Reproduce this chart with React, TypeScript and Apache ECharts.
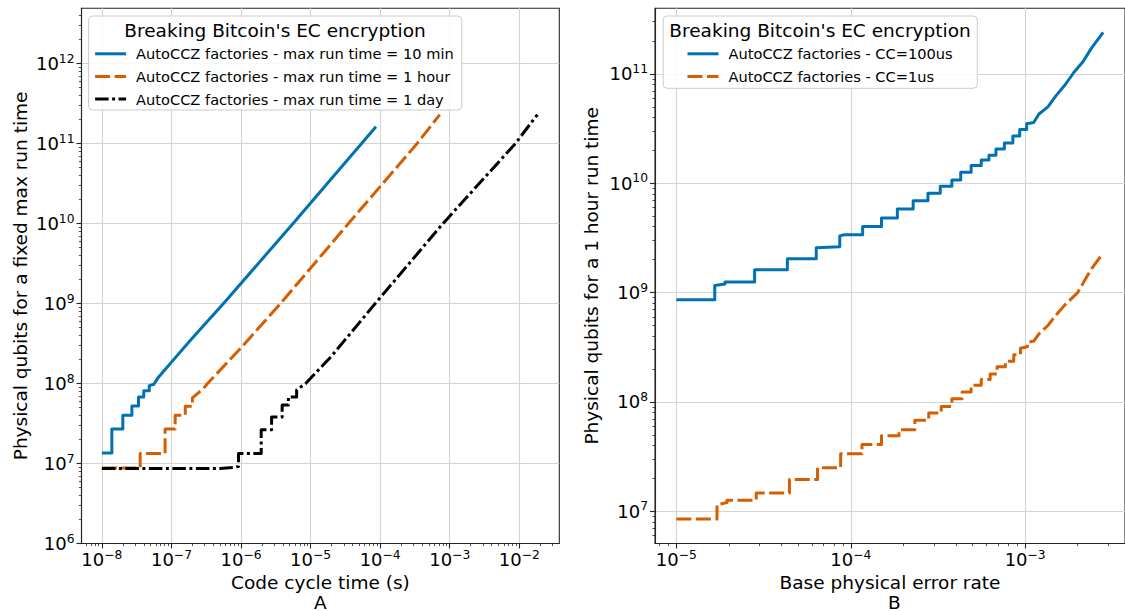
import React, { useEffect, useRef } from "react";
import * as echarts from "echarts";

const FONT = "'DejaVu Sans', 'Noto Sans', sans-serif";
const BLUE = "#0072B2";
const ORANGE = "#D55E00";
const BLACK = "#000000";
const AXIS_COLOR = "#262626";
const GRID_COLOR = "#d4d4d4";

// ---------- Panel A ----------
const panelATitle = "Breaking Bitcoin's EC encryption";
const panelANames = [
  "AutoCCZ factories - max run time = 10 min",
  "AutoCCZ factories - max run time = 1 hour",
  "AutoCCZ factories - max run time = 1 day",
];
const panelAXTickExps = [-8, -7, -6, -5, -4, -3, -2];
const panelAYTickExps = [6, 7, 8, 9, 10, 11, 12];
const panelAXLimExp = [-8.293, -1.425];
const panelAYLimExp = [6, 12.69];
const panelAXLabel = "Code cycle time (s)";
const panelAYLabel = "Physical qubits for a fixed max run time";
const panelACaption = "A";

// [code cycle time (s), physical qubits]
const tenMin: [number, number][] = [
  [1e-8, 1.35e7], [1.39e-8, 1.35e7], [1.39e-8, 2.7e7], [2.0e-8, 2.7e7],
  [2.0e-8, 4.0e7], [2.7e-8, 4.0e7], [2.7e-8, 5.25e7], [3.36e-8, 5.25e7],
  [3.36e-8, 6.8e7], [4.0e-8, 6.8e7], [4.0e-8, 8.1e7], [4.8e-8, 8.1e7],
  [4.8e-8, 9.4e7], [5.6e-8, 9.8e7], [6.5e-8, 1.2e8], [8.1e-8, 1.5e8],
  [1e-7, 1.85e8], [2e-7, 3.7e8], [5.6e-7, 1.0e9], [5.6e-6, 1.0e10],
  [5.4e-5, 1.0e11], [8.7e-5, 1.62e11],
];
const oneHour: [number, number][] = [
  [1e-8, 8.8e6], [3.55e-8, 8.8e6], [3.55e-8, 1.33e7], [8.1e-8, 1.33e7],
  [8.1e-8, 2.7e7], [1.13e-7, 2.7e7], [1.13e-7, 4.0e7], [1.58e-7, 4.0e7],
  [1.58e-7, 5.2e7], [2.0e-7, 5.2e7], [2.0e-7, 6.6e7], [2.9e-7, 8.7e7],
  [3.3e-7, 1.0e8], [1e-6, 2.8e8], [3.7e-6, 1.0e9], [3.5e-5, 1.0e10],
  [3.4e-4, 1.0e11], [7.2e-4, 2.3e11],
];
const oneDay: [number, number][] = [
  [1e-8, 8.65e6], [5e-7, 8.65e6], [8.5e-7, 9.0e6], [9.2e-7, 9.2e6],
  [9.2e-7, 1.33e7], [1.95e-6, 1.33e7], [1.95e-6, 2.65e7], [2.75e-6, 2.65e7],
  [2.75e-6, 3.8e7], [3.9e-6, 3.8e7], [3.9e-6, 5.4e7], [4.8e-6, 5.4e7],
  [4.8e-6, 6.8e7], [6.3e-6, 6.8e7], [6.3e-6, 8.3e7], [8.5e-6, 1.0e8],
  [2e-5, 2.2e8], [8.5e-5, 1.0e9], [8.0e-4, 1.0e10], [8.8e-3, 1.0e11],
  [1.82e-2, 2.3e11],
];

// ---------- Panel B ----------
const panelBTitle = "Breaking Bitcoin's EC encryption";
const panelBNames = ["AutoCCZ factories - CC=100us", "AutoCCZ factories - CC=1us"];
const panelBXTickExps = [-5, -4, -3];
const panelBYTickExps = [7, 8, 9, 10, 11];
const panelBXLimExp = [-5.1225, -2.4275];
const panelBYLimExp = [6.705, 11.6];
const panelBXLabel = "Base physical error rate";
const panelBYLabel = "Physical qubits for a 1 hour run time";
const panelBCaption = "B";

// [base physical error rate, physical qubits]
const cc100us: [number, number][] = [
  [1e-5, 8.6e8], [1.66e-5, 8.6e8], [1.66e-5, 1.16e9], [1.9e-5, 1.2e9],
  [1.9e-5, 1.25e9], [2.81e-5, 1.25e9], [2.81e-5, 1.62e9], [4.33e-5, 1.62e9],
  [4.33e-5, 2.04e9], [6.34e-5, 2.04e9], [6.34e-5, 2.57e9], [7.4e-5, 2.6e9],
  [8.65e-5, 2.62e9], [8.65e-5, 3.3e9], [9.2e-5, 3.38e9], [1.17e-4, 3.38e9],
  [1.17e-4, 4.03e9], [1.5e-4, 4.03e9], [1.5e-4, 4.8e9], [1.85e-4, 4.8e9],
  [1.85e-4, 5.8e9], [2.28e-4, 5.8e9], [2.28e-4, 6.9e9], [2.77e-4, 6.9e9],
  [2.77e-4, 8.1e9], [3.26e-4, 8.1e9], [3.26e-4, 9.4e9], [3.8e-4, 9.4e9],
  [3.8e-4, 1.07e10], [4.27e-4, 1.07e10], [4.27e-4, 1.26e10], [4.9e-4, 1.26e10],
  [4.9e-4, 1.45e10], [5.6e-4, 1.45e10], [5.6e-4, 1.63e10], [6.2e-4, 1.63e10],
  [6.2e-4, 1.8e10], [6.8e-4, 1.8e10], [6.8e-4, 2.06e10], [7.6e-4, 2.06e10],
  [7.6e-4, 2.33e10], [8.5e-4, 2.33e10], [8.5e-4, 2.7e10], [9.3e-4, 2.7e10],
  [9.3e-4, 3.1e10], [1.02e-3, 3.1e10], [1.02e-3, 3.5e10], [1.12e-3, 3.6e10],
  [1.2e-3, 4.3e10], [1.35e-3, 5.0e10], [1.5e-3, 6.3e10], [1.7e-3, 8.0e10],
  [1.9e-3, 1.03e11], [2.15e-3, 1.3e11], [2.4e-3, 1.72e11], [2.8e-3, 2.4e11],
];
const cc1us: [number, number][] = [
  [1e-5, 8.5e6], [1.71e-5, 8.5e6], [1.71e-5, 1.15e7], [1.95e-5, 1.2e7],
  [1.95e-5, 1.26e7], [2.87e-5, 1.26e7], [2.87e-5, 1.47e7], [4.45e-5, 1.47e7],
  [4.45e-5, 1.95e7], [6.45e-5, 1.95e7], [6.45e-5, 2.5e7], [8.75e-5, 2.5e7],
  [8.75e-5, 3.35e7], [1.16e-4, 3.35e7], [1.16e-4, 4.07e7], [1.5e-4, 4.07e7],
  [1.5e-4, 4.9e7], [1.89e-4, 4.9e7], [1.89e-4, 5.56e7], [2.33e-4, 5.56e7],
  [2.33e-4, 6.8e7], [2.8e-4, 6.8e7], [2.8e-4, 7.9e7], [3.3e-4, 7.9e7],
  [3.3e-4, 9.1e7], [3.8e-4, 9.1e7], [3.8e-4, 1.07e8], [4.35e-4, 1.07e8],
  [4.35e-4, 1.23e8], [4.9e-4, 1.23e8], [4.9e-4, 1.42e8], [5.6e-4, 1.42e8],
  [5.6e-4, 1.6e8], [6.3e-4, 1.6e8], [6.3e-4, 1.8e8], [6.9e-4, 1.8e8],
  [6.9e-4, 2.1e8], [7.7e-4, 2.1e8], [7.7e-4, 2.35e8], [8.6e-4, 2.35e8],
  [8.6e-4, 2.7e8], [9.4e-4, 2.7e8], [9.4e-4, 3.1e8], [1.03e-3, 3.2e8],
  [1.03e-3, 3.5e8], [1.12e-3, 3.6e8], [1.2e-3, 4.2e8], [1.35e-3, 5.0e8],
  [1.5e-3, 6.2e8], [1.7e-3, 7.8e8], [2.0e-3, 1.0e9], [2.2e-3, 1.3e9],
  [2.4e-3, 1.65e9], [2.8e-3, 2.3e9],
];

const SUP_MINUS = "\u2212";

function powLabel(v: number): string {
  const e = Math.round(Math.log10(v));
  return `{b|10}{s|${e < 0 ? SUP_MINUS + Math.abs(e) : String(e)}}`;
}

const labelRich = {
  b: { fontSize: 18, fontFamily: FONT, color: "#000", lineHeight: 22 },
  s: { fontSize: 12.3, fontFamily: FONT, color: "#000", lineHeight: 14, verticalAlign: "top" },
};

function minorValues(lo: number, hi: number): number[] {
  const out: number[] = [];
  for (let e = Math.floor(lo); e <= Math.ceil(hi); e++) {
    for (let k = 2; k <= 9; k++) {
      const v = k * Math.pow(10, e);
      const l = Math.log10(v);
      if (l >= lo && l <= hi) out.push(v);
    }
  }
  return out;
}

function majorAxis(gridIndex: number, lim: number[], exps: number[], name: string, nameGap: number, isX: boolean) {
  const vals = exps.map((e) => Math.pow(10, e));
  return {
    type: "log",
    logBase: 10,
    gridIndex,
    position: isX ? "bottom" : "left",
    min: Math.pow(10, lim[0]),
    max: Math.pow(10, lim[1]),
    name,
    nameLocation: "middle",
    nameGap,
    nameTextStyle: { fontSize: 18.5, fontFamily: FONT, color: "#000", lineHeight: 19 },
    axisLine: { show: true, onZero: false, lineStyle: { color: AXIS_COLOR, width: 1.1 } },
    axisTick: { show: true, inside: false, length: 5, customValues: vals, lineStyle: { color: AXIS_COLOR, width: 1.1 } },
    axisLabel: {
      show: true,
      customValues: vals,
      margin: isX ? 5 : 7,
      formatter: (v: number) => powLabel(v),
      rich: labelRich,
    },
    splitLine: { show: true, lineStyle: { color: GRID_COLOR, width: 1.1 } },
    minorTick: { show: false },
    minorSplitLine: { show: false },
  };
}

function minorAxis(gridIndex: number, lim: number[], isX: boolean) {
  return {
    type: "log",
    logBase: 10,
    gridIndex,
    position: isX ? "bottom" : "left",
    offset: 0,
    min: Math.pow(10, lim[0]),
    max: Math.pow(10, lim[1]),
    axisLine: { show: false, onZero: false },
    axisLabel: { show: false },
    splitLine: { show: false },
    axisTick: {
      show: true,
      inside: false,
      length: 2.6,
      customValues: minorValues(lim[0], lim[1]),
      lineStyle: { color: AXIS_COLOR, width: 0.8 },
    },
  };
}

function lineSeries(name: string, data: [number, number][], color: string, dash: any, xi: number, yi: number) {
  return {
    type: "line",
    name,
    xAxisIndex: xi,
    yAxisIndex: yi,
    data,
    symbol: "none",
    showSymbol: false,
    silent: true,
    color,
    itemStyle: { color },
    lineStyle: { color, width: 3, type: dash, cap: "butt", join: "round" },
    z: 2,
  };
}

function legendOpt(names: string[], left: number) {
  return {
    data: names,
    orient: "vertical",
    left,
    top: 46.3,
    itemWidth: 31,
    itemHeight: 14,
    itemGap: 7.6,
    padding: 0,
    selectedMode: false,
    textStyle: { fontSize: 14.6, fontFamily: FONT, color: "#000", lineHeight: 14, padding: [0, 0, 0, 5] },
    itemStyle: { opacity: 0 },
    lineStyle: { width: 3 },
    z: 6,
  };
}

export default function App() {
  const ref = useRef<HTMLDivElement>(null);
  useEffect(() => {
    if (!ref.current) return;
    const chart = echarts.init(ref.current, undefined, { renderer: "svg" });
    const option = {
      animation: false,
      backgroundColor: "#ffffff",
      textStyle: { fontFamily: FONT },
      grid: [
        { left: 81.5, top: 8.3, width: 477.8, height: 535.2, show: true, borderColor: AXIS_COLOR, borderWidth: 1.1, backgroundColor: "transparent" },
        { left: 655, top: 8.3, width: 478.6, height: 535.2, show: true, borderColor: AXIS_COLOR, borderWidth: 1.1, backgroundColor: "transparent" },
      ],
      xAxis: [
        majorAxis(0, panelAXLimExp, panelAXTickExps, panelAXLabel, 27, true),
        minorAxis(0, panelAXLimExp, true),
        majorAxis(1, panelBXLimExp, panelBXTickExps, panelBXLabel, 27, true),
        minorAxis(1, panelBXLimExp, true),
      ],
      yAxis: [
        majorAxis(0, panelAYLimExp, panelAYTickExps, panelAYLabel, 52, false),
        minorAxis(0, panelAYLimExp, false),
        majorAxis(1, panelBYLimExp, panelBYTickExps, panelBYLabel, 54, false),
        minorAxis(1, panelBYLimExp, false),
      ],
      legend: [legendOpt(panelANames, 93.6), legendOpt(panelBNames, 686)],
      series: [
        lineSeries(panelANames[0], tenMin, BLUE, "solid", 0, 0),
        lineSeries(panelANames[1], oneHour, ORANGE, [15, 4.5], 0, 0),
        lineSeries(panelANames[2], oneDay, BLACK, [13.5, 3.5, 3, 3.5], 0, 0),
        lineSeries(panelBNames[0], cc100us, BLUE, "solid", 2, 2),
        lineSeries(panelBNames[1], cc1us, ORANGE, [15, 4.5], 2, 2),
      ],
      graphic: [
        {
          type: "rect",
          z: 4,
          shape: { x: 88.6, y: 16, width: 373.2, height: 94, r: 4 },
          style: { fill: "rgba(255,255,255,0.85)", stroke: "#cccccc", lineWidth: 1 },
        },
        {
          type: "rect",
          z: 4,
          shape: { x: 663.2, y: 16, width: 314.1, height: 72.3, r: 4 },
          style: { fill: "rgba(255,255,255,0.85)", stroke: "#cccccc", lineWidth: 1 },
        },
        {
          type: "text",
          z: 7,
          x: 275,
          y: 30.5,
          style: { text: panelATitle, fontSize: 18.5, fontFamily: FONT, fill: "#000", align: "center", verticalAlign: "middle" },
        },
        {
          type: "text",
          z: 7,
          x: 820,
          y: 30.5,
          style: { text: panelBTitle, fontSize: 18.5, fontFamily: FONT, fill: "#000", align: "center", verticalAlign: "middle" },
        },
        {
          type: "text",
          z: 7,
          x: 320.4,
          y: 602,
          style: { text: panelACaption, fontSize: 18.5, lineHeight: 18, fontFamily: FONT, fill: "#000", align: "center", verticalAlign: "middle" },
        },
        {
          type: "text",
          z: 7,
          x: 894.3,
          y: 602,
          style: { text: panelBCaption, fontSize: 18.5, lineHeight: 18, fontFamily: FONT, fill: "#000", align: "center", verticalAlign: "middle" },
        },
      ],
    };
    chart.setOption(option as any);
    return () => chart.dispose();
  }, []);
  return (
    <div
      ref={ref}
      style={{ position: "absolute", left: 0, top: 0, width: 1125, height: 611, overflow: "hidden", background: "#fff" }}
    />
  );
}
